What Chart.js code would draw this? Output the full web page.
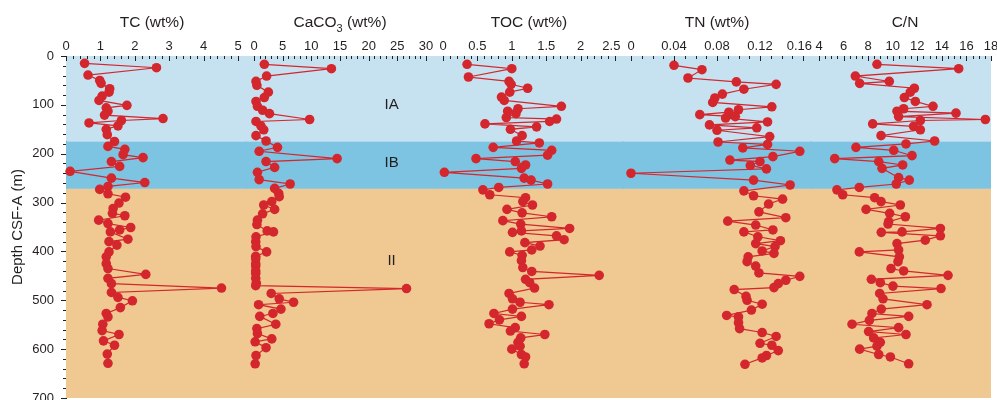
<!DOCTYPE html>
<html>
<head>
<meta charset="utf-8">
<script src="https://cdn.jsdelivr.net/npm/chart.js@4.4.1/dist/chart.umd.min.js"></script>
<style>
  body { margin: 0; background: #fff; }
  #wrap { position: relative; width: 997px; height: 400px; overflow: hidden; }
  #wrap canvas { position: absolute; top: 0; }
</style>
</head>
<body>
<div id="wrap"></div>
<script>
// ===== Data =====
// Unit litostratigrafi (kedalaman m)
const unitNames = ["IA", "IB", "II"];
const unitTop = [0, 175, 272];
const unitBottom = [175, 272, 700];
const unitLabelDepth = [100, 218, 420];

// Sumbu kedalaman
const depthTicks = [0, 100, 200, 300, 400, 500, 600, 700];

// TC (wt%)
const tcTicks = [0, 1, 2, 3, 4, 5];
const tcDepth = [15, 24, 39, 50, 56, 67, 74, 82, 91, 101, 106, 113, 121, 128, 132, 137, 143, 150, 161, 175,
  185, 191, 202, 208, 216, 226, 236, 250, 259, 267, 273, 282, 289, 301, 312, 322, 327, 336, 343, 351,
  356, 360, 375, 380, 387, 401, 411, 425, 435, 447, 455, 466, 475, 484, 494, 501, 515, 527, 534, 549,
  562, 570, 583, 592, 610, 629];
const tcValue = [0.54, 2.63, 0.64, 0.98, 1.02, 1.27, 1.25, 1.05, 0.96, 1.77, 1.17, 1.22, 1.12, 2.82, 1.61, 0.67, 1.51, 1.17, 1.20, 1.41,
  1.22, 1.71, 1.66, 2.24, 1.32, 1.56, 0.12, 1.32, 2.29, 1.22, 0.98, 1.22, 1.73, 1.54, 1.37, 1.35, 1.71, 0.95, 1.22, 1.88,
  1.56, 1.29, 1.80, 1.25, 1.48, 1.25, 1.17, 1.17, 1.22, 2.32, 1.22, 1.32, 4.52, 1.32, 1.51, 1.93, 1.58, 1.17, 1.22, 1.07,
  1.05, 1.54, 1.09, 1.41, 1.20, 1.22];

// CaCO3 (wt%)
const caco3Ticks = [0, 5, 10, 15, 20, 25, 30];
const caco3Depth = [17, 26, 41, 52, 60, 74, 85, 93, 103, 111, 118, 130, 134, 143, 151, 163, 174, 187, 195, 210,
  216, 228, 238, 253, 262, 271, 281, 288, 298, 305, 314, 323, 336, 345, 358, 360, 370, 380, 390, 401,
  410, 415, 425, 430, 440, 445, 455, 465, 470, 476, 486, 497, 504, 509, 518, 527, 533, 549, 558, 568,
  579, 585, 597, 613, 630];
const caco3Value = [1.8, 13.5, 2.2, 0.35, 0.5, 2.5, 1.8, 0.35, 0.6, 1.5, 2.7, 9.7, 0.35, 1.2, 1.7, 0.35, 2.1, 4.1, 0.9, 14.5,
  2.1, 3.6, 0.6, 0.9, 6.3, 3.6, 4.3, 4.4, 3.1, 1.7, 3.6, 1.5, 0.6, 0.5, 2.3, 3.4, 0.35, 0.3, 0.35, 2.2,
  0.3, 0.3, 0.3, 0.3, 0.3, 0.3, 0.3, 0.4, 0.3, 26.6, 3.0, 4.4, 6.9, 0.8, 4.7, 3.3, 1.0, 3.8, 0.5, 0.6,
  3.1, 0.2, 2.1, 0.35, 0.2];

// TOC (wt%)
const tocTicks = [0, 0.5, 1, 1.5, 2, 2.5];
const tocDepth = [17, 26, 43, 52, 58, 66, 74, 84, 91, 103, 108, 113, 118, 126, 129, 134, 139, 145, 150, 163,
  174, 178, 187, 193, 203, 210, 216, 223, 230, 238, 250, 254, 262, 269, 274, 284, 290, 298, 305, 314,
  321, 329, 337, 344, 353, 358, 361, 368, 376, 382, 389, 397, 401, 408, 419, 433, 441, 449, 457, 464,
  475, 486, 497, 504, 509, 518, 527, 533, 540, 548, 556, 563, 570, 577, 586, 594, 600, 611, 616, 630];
const tocValue = [0.35, 1.00, 0.37, 0.96, 0.99, 1.23, 0.97, 0.85, 0.89, 1.72, 1.09, 0.94, 1.06, 0.92, 1.65, 1.55, 0.61, 1.36, 0.98, 1.15,
  1.07, 1.40, 0.73, 1.58, 1.52, 0.48, 1.05, 1.20, 1.14, 0.02, 1.18, 1.28, 1.52, 0.81, 0.58, 0.68, 1.20, 1.16, 1.30, 0.93,
  1.15, 1.58, 0.87, 1.13, 1.84, 1.14, 1.01, 1.65, 1.76, 1.19, 1.41, 1.29, 0.97, 1.15, 1.14, 1.16, 1.29, 2.27, 1.20, 1.26,
  1.33, 0.96, 1.01, 1.12, 1.54, 1.01, 0.74, 1.14, 0.82, 0.67, 1.05, 0.98, 1.48, 1.13, 1.09, 1.12, 1.00, 1.14, 1.20, 1.18];

// TN (wt%)
const tnTicks = [0, 0.04, 0.08, 0.12, 0.16];
const tnDepth = [19, 28, 45, 53, 58, 68, 78, 86, 95, 104, 110, 115, 120, 124, 127, 135, 141, 147, 152, 165,
  176, 181, 188, 195, 206, 213, 216, 224, 231, 240, 254, 264, 276, 286, 293, 303, 319, 331, 338, 346,
  356, 360, 370, 378, 384, 390, 399, 404, 411, 421, 430, 444, 451, 459, 466, 474, 478, 492, 500, 508,
  520, 531, 534, 546, 558, 566, 574, 588, 592, 603, 613, 618, 631];
const tnValue = [0.040, 0.066, 0.053, 0.098, 0.135, 0.105, 0.085, 0.078, 0.076, 0.131, 0.100, 0.091, 0.064, 0.097, 0.088, 0.127, 0.073, 0.117, 0.080, 0.129,
  0.081, 0.127, 0.104, 0.157, 0.132, 0.092, 0.120, 0.111, 0.126, 0.000, 0.114, 0.148, 0.105, 0.114, 0.141, 0.128, 0.119, 0.144, 0.090, 0.116,
  0.132, 0.105, 0.118, 0.139, 0.116, 0.134, 0.122, 0.133, 0.109, 0.108, 0.116, 0.119, 0.157, 0.144, 0.137, 0.133, 0.096, 0.107, 0.108, 0.122,
  0.112, 0.089, 0.100, 0.100, 0.101, 0.122, 0.135, 0.120, 0.131, 0.137, 0.126, 0.122, 0.106];

// C/N
const cnTicks = [4, 6, 8, 10, 12, 14, 16, 18];
const cnDepth = [17, 26, 41, 52, 56, 66, 74, 85, 93, 103, 108, 113, 117, 124, 130, 132, 139, 144, 151, 163,
  174, 180, 187, 193, 204, 210, 216, 223, 230, 249, 254, 262, 269, 274, 284, 290, 298, 305, 314, 322,
  329, 339, 344, 353, 360, 361, 368, 377, 384, 397, 401, 411, 421, 435, 440, 449, 457, 464, 471, 476,
  486, 497, 509, 518, 527, 533, 541, 549, 556, 564, 570, 577, 586, 594, 600, 611, 616, 630];
const cnValue = [8.72, 15.37, 6.96, 9.72, 7.31, 11.76, 11.43, 10.95, 11.84, 13.28, 10.89, 10.35, 15.15, 10.48, 17.54, 12.25, 8.37, 11.70, 12.25, 9.05,
  13.41, 11.08, 7.01, 10.08, 11.57, 5.28, 8.86, 10.81, 9.13, 10.48, 11.35, 10.29, 7.28, 5.46, 5.93, 8.53, 9.05, 10.62, 7.83, 9.75,
  11.03, 9.67, 9.62, 13.88, 10.76, 9.07, 13.88, 12.65, 10.35, 10.48, 7.28, 10.54, 10.43, 9.86, 10.89, 14.50, 8.26, 8.99, 10.02, 13.93,
  8.94, 9.21, 12.79, 9.07, 8.31, 11.30, 8.10, 6.69, 10.48, 8.04, 11.08, 8.45, 8.99, 8.72, 7.31, 8.86, 9.81, 11.30];

// ===== Gaya =====
const FONT = "'Liberation Sans', Arial, Helvetica, sans-serif";
const TEXT_COLOR = "#231f20";
const AXIS_COLOR = "#231f20";
const RED = "#d3262d";
const unitColors = ["#c6e2f0", "#7dc4e2", "#f0c992"];
const CANVAS_H = 420;

// Plugin: latar belakang unit (pita warna), melebar ke celah antar panel
const pitaUnit = {
  id: "pitaUnit",
  beforeDatasetsDraw(chart, args, opts) {
    const { ctx, chartArea, scales } = chart;
    const y = scales.y;
    const x0 = chartArea.left - opts.extLeft;
    const x1 = chartArea.right + opts.extRight;
    ctx.save();
    unitNames.forEach((nama, i) => {
      const ya = y.getPixelForValue(unitTop[i]);
      const yb = y.getPixelForValue(unitBottom[i]);
      ctx.fillStyle = unitColors[i];
      ctx.fillRect(x0, ya, x1 - x0, yb - ya);
    });
    ctx.restore();
  },
};

// Plugin: tick kecil, judul panel, label unit
const hiasan = {
  id: "hiasan",
  afterDraw(chart, args, opts) {
    const { ctx, chartArea, scales } = chart;
    const xs = scales.x;
    const ys = scales.y;
    ctx.save();
    ctx.strokeStyle = AXIS_COLOR;
    ctx.lineWidth = 1;

    // tick sumbu atas (mengarah ke bawah, ke dalam plot)
    const n = Math.round((xs.max - xs.min) / opts.minorStep);
    for (let i = 0; i <= n; i++) {
      const v = xs.min + i * opts.minorStep;
      const major = opts.majors.some((m) => Math.abs(m - v) < 1e-9);
      const px = Math.round(xs.getPixelForValue(v)) + 0.5;
      ctx.beginPath();
      ctx.moveTo(px, chartArea.top);
      ctx.lineTo(px, chartArea.top + (major ? 5 : 3));
      ctx.stroke();
    }

    // tick sumbu kedalaman (ke kiri)
    if (opts.depthAxis) {
      for (let d = 0; d <= 700; d += 20) {
        const major = d % 100 === 0;
        const py = Math.round(ys.getPixelForValue(d)) + 0.5;
        ctx.beginPath();
        ctx.moveTo(chartArea.left, py);
        ctx.lineTo(chartArea.left - (major ? 5 : 3), py);
        ctx.stroke();
      }
    }

    // judul panel (dengan subskrip)
    const cx = (chartArea.left + chartArea.right) / 2;
    const parts = opts.title;
    let total = 0;
    parts.forEach((p) => {
      ctx.font = (p.sub ? 11 : 15.5) + "px " + FONT;
      total += ctx.measureText(p.t).width;
    });
    let x = cx - total / 2;
    ctx.fillStyle = TEXT_COLOR;
    ctx.textBaseline = "alphabetic";
    ctx.textAlign = "left";
    parts.forEach((p) => {
      ctx.font = (p.sub ? 11 : 15.5) + "px " + FONT;
      ctx.fillText(p.t, x, p.sub ? 31.5 : 27);
      x += ctx.measureText(p.t).width;
    });

    // label unit
    if (opts.unitLabels) {
      ctx.font = "15px " + FONT;
      ctx.textAlign = "center";
      ctx.textBaseline = "middle";
      unitNames.forEach((nama, i) => {
        ctx.fillText(nama, xs.getPixelForValue(opts.unitLabelX), ys.getPixelForValue(unitLabelDepth[i]));
      });
    }
    ctx.restore();
  },
};

function buatPanel(cfg) {
  const canvas = document.createElement("canvas");
  canvas.width = cfg.width;
  canvas.height = CANVAS_H;
  canvas.style.left = cfg.left + "px";
  canvas.style.width = cfg.width + "px";
  canvas.style.height = CANVAS_H + "px";
  document.getElementById("wrap").appendChild(canvas);

  const points = cfg.depth.map((d, i) => ({ x: cfg.value[i], y: d }));
  const lastTick = cfg.ticks[cfg.ticks.length - 1];

  new Chart(canvas, {
    type: "scatter",
    data: {
      datasets: [
        {
          data: points,
          showLine: true,
          borderColor: RED,
          borderWidth: 1.2,
          backgroundColor: RED,
          pointRadius: 4.8,
          pointBorderWidth: 0,
          pointHoverRadius: 4.8,
          clip: false,
        },
      ],
    },
    options: {
      responsive: false,
      animation: false,
      events: [],
      layout: { padding: { left: cfg.padLeft, right: cfg.padRight, top: 0, bottom: 22 } },
      plugins: {
        legend: { display: false },
        tooltip: { enabled: false },
        pitaUnit: { extLeft: cfg.extLeft, extRight: cfg.extRight },
        hiasan: {
          minorStep: cfg.minorStep,
          majors: cfg.ticks,
          depthAxis: cfg.depthAxis,
          title: cfg.title,
          unitLabels: cfg.unitLabels,
          unitLabelX: cfg.unitLabelX,
        },
      },
      scales: {
        x: {
          type: "linear",
          position: "top",
          min: cfg.ticks[0],
          max: lastTick,
          afterBuildTicks: (s) => {
            s.ticks = cfg.ticks.map((v) => ({ value: v }));
          },
          afterFit: (s) => {
            s.height = 56;
          },
          grid: { display: false, drawTicks: false },
          border: { display: true, color: AXIS_COLOR, width: 1 },
          ticks: {
            padding: 2,
            autoSkip: false,
            color: TEXT_COLOR,
            font: { family: FONT, size: 13 },
            maxRotation: 0,
            // label terakhir digeser sedikit agar tidak menempel panel berikutnya
            callback: (v) => (cfg.nudgeLast && v === lastTick ? String(v) + "  " : String(v)),
          },
        },
        y: {
          type: "linear",
          reverse: true,
          min: 0,
          max: 700,
          display: cfg.depthAxis,
          afterBuildTicks: (s) => {
            s.ticks = depthTicks.map((v) => ({ value: v }));
          },
          afterFit: (s) => {
            if (cfg.depthAxis) s.width = 66;
          },
          grid: { display: false, drawTicks: false },
          border: { display: true, color: AXIS_COLOR, width: 1 },
          ticks: {
            padding: 12,
            autoSkip: false,
            color: TEXT_COLOR,
            font: { family: FONT, size: 13 },
          },
          title: {
            display: true,
            text: "Depth CSF-A (m)",
            color: TEXT_COLOR,
            font: { family: FONT, size: 15 },
            padding: { top: 9, bottom: 0 },
          },
        },
      },
    },
    plugins: [pitaUnit, hiasan],
  });
}

document.addEventListener("DOMContentLoaded", function () {
  buatPanel({
    left: 0, width: 260, padLeft: 0, padRight: 22, extLeft: 0, extRight: 9,
    depth: tcDepth, value: tcValue, ticks: tcTicks, minorStep: 0.2, depthAxis: true,
    title: [{ t: "TC (wt%)" }],
  });
  buatPanel({
    left: 234, width: 212, padLeft: 20, padRight: 20, extLeft: 9, extRight: 9,
    depth: caco3Depth, value: caco3Value, ticks: caco3Ticks, minorStep: 1, depthAxis: false,
    title: [{ t: "CaCO" }, { t: "3", sub: true }, { t: " (wt%)" }],
    unitLabels: true, unitLabelX: 24,
  });
  buatPanel({
    left: 423, width: 212, padLeft: 20, padRight: 20, extLeft: 9, extRight: 9,
    depth: tocDepth, value: tocValue, ticks: tocTicks, minorStep: 0.1, depthAxis: false,
    title: [{ t: "TOC (wt%)" }], nudgeLast: true,
  });
  buatPanel({
    left: 611, width: 212, padLeft: 20, padRight: 20, extLeft: 9, extRight: 9,
    depth: tnDepth, value: tnValue, ticks: tnTicks, minorStep: 0.01, depthAxis: false,
    title: [{ t: "TN (wt%)" }], nudgeLast: true,
  });
  buatPanel({
    left: 799, width: 212, padLeft: 20, padRight: 20, extLeft: 9, extRight: 0,
    depth: cnDepth, value: cnValue, ticks: cnTicks, minorStep: 0.5, depthAxis: false,
    title: [{ t: "C/N" }],
  });
});
</script>
</body>
</html>
